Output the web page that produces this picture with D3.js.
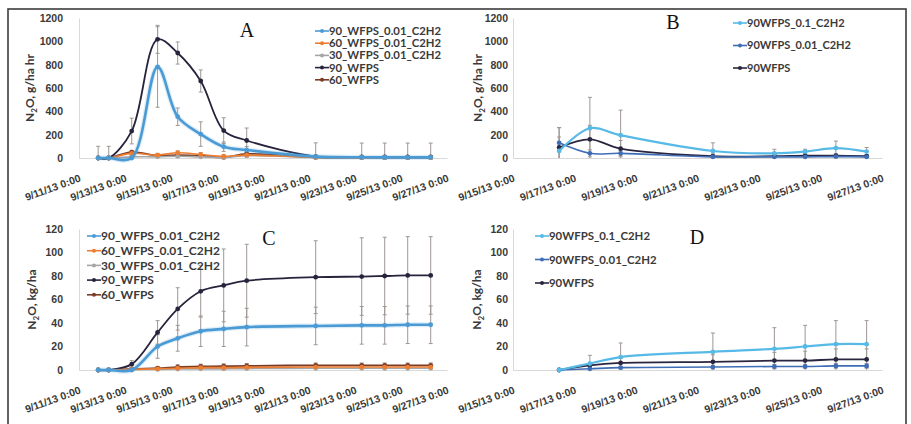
<!DOCTYPE html>
<html>
<head>
<meta charset="utf-8">
<script src="https://cdn.jsdelivr.net/npm/d3@7"></script>
<style>
body { margin: 0; background: #fff; }
svg { display: block; font-family: Lato, "DejaVu Sans", sans-serif; }
</style>
</head>
<body>
<svg id="chart" width="911" height="424"></svg>
<script>
// sampling times
var datesAC = ["2013-09-11T20:00", "2013-09-12T07:00", "2013-09-13T07:00", "2013-09-14T10:00",
	"2013-09-15T07:00", "2013-09-16T07:00", "2013-09-17T07:00", "2013-09-18T07:00",
	"2013-09-21T07:00", "2013-09-23T07:00", "2013-09-24T07:00", "2013-09-25T07:00", "2013-09-26T07:00"];
var datesBD = ["2013-09-16T12:00", "2013-09-17T12:00", "2013-09-18T12:00", "2013-09-21T12:00",
	"2013-09-23T12:00", "2013-09-24T12:00", "2013-09-25T12:00", "2013-09-26T12:00"];

// axis ticks
var xTicksAC = ["2013-09-11", "2013-09-13", "2013-09-15", "2013-09-17", "2013-09-19", "2013-09-21", "2013-09-23", "2013-09-25", "2013-09-27"];
var xTicksBD = ["2013-09-15", "2013-09-17", "2013-09-19", "2013-09-21", "2013-09-23", "2013-09-25", "2013-09-27"];
var fluxTicks = [0, 200, 400, 600, 800, 1000, 1200];
var cumTicks = [0, 20, 40, 60, 80, 100, 120];

// legend labels
var namesAC = ["90_WFPS_0.01_C2H2", "60_WFPS_0.01_C2H2", "30_WFPS_0.01_C2H2", "90_WFPS", "60_WFPS"];
var namesBD = ["90WFPS_0.1_C2H2", "90WFPS_0.01_C2H2", "90WFPS"];

// A: flux, g/ha hr
var a90C2H2 = [0, 0, 0, 780, 354, 205, 97, 68, 12, 6, 5, 5, 5];
var a90C2H2Err = [0, 0, 0, 345, 75, 105, 40, 30, 10, 8, 8, 8, 8];
var a60C2H2 = [0, 0, 40, 25, 45, 30, 15, 25, 5, 3, 3, 3, 3];
var a60C2H2Err = [0, 0, 15, 15, 15, 15, 10, 15, 5, 5, 5, 5, 5];
var a30C2H2 = [0, 0, 10, 10, 15, 10, 5, 20, 5, 3, 3, 3, 3];
var a30C2H2Err = [0, 0, 10, 10, 10, 10, 5, 10, 5, 5, 5, 5, 5];
var a90 = [0, 0, 231, 1017, 900, 660, 235, 150, 12, 10, 10, 10, 10];
var a90Err = [100, 100, 110, 120, 95, 95, 110, 107, 118, 118, 118, 118, 118];
var a60 = [0, 0, 50, 20, 25, 20, 5, 35, 5, 3, 3, 3, 3];
var a60Err = [0, 0, 15, 10, 10, 10, 5, 15, 5, 5, 5, 5, 5];

// B: flux, g/ha hr
var b90C2H2High = [60, 255, 195, 60, 40, 55, 85, 55];
var b90C2H2HighErr = [200, 265, 215, 70, 35, 20, 60, 35];
var b90C2H2Low = [130, 40, 40, 10, 10, 10, 12, 10];
var b90C2H2LowErr = [130, 30, 20, 10, 10, 10, 10, 10];
var b90 = [90, 160, 80, 15, 15, 20, 20, 15];
var b90Err = [90, 120, 70, 20, 15, 15, 15, 15];

// C: cumulative, kg/ha
var c90C2H2 = [0, 0, 0, 20, 27, 33, 35, 36.5, 37.5, 38, 38, 38.5, 38.5];
var c90C2H2Err = [0, 0, 0, 10, 11, 13, 15, 16, 16, 16, 16, 16, 16];
var c60C2H2 = [0, 0, 0.5, 1, 1.5, 2, 2, 2.2, 2.5, 2.5, 2.5, 2.5, 2.5];
var c60C2H2Err = [0, 0, 0.5, 1, 1, 1, 1, 1, 1, 1, 1, 1, 1];
var c30C2H2 = [0, 0, 0.3, 0.5, 0.8, 1, 1, 1.2, 1.5, 1.5, 1.5, 1.5, 1.5];
var c30C2H2Err = [0, 0, 0.5, 0.5, 0.5, 0.5, 0.5, 0.5, 0.5, 0.5, 0.5, 0.5, 0.5];
var c90 = [0, 0, 5, 32, 52, 67, 72, 76, 79, 79.5, 80, 80.5, 80.5];
var c90Err = [0, 0, 3, 10, 18, 22, 31, 31, 31, 33, 33, 33, 33];
var c60 = [0, 0, 1, 1.5, 2.5, 3, 3.2, 3.5, 4, 4, 4, 4, 4];
var c60Err = [0, 0, 1, 1.5, 2, 2, 2, 2, 2, 2, 2, 2, 2];

// D: cumulative, kg/ha
var d90C2H2High = [0, 5.5, 11, 15.5, 18, 20, 22, 22];
var d90C2H2HighErr = [0, 7, 12, 16, 18, 18, 20, 20];
var d90C2H2Low = [0, 1, 2, 2.5, 3, 3, 3.5, 3.5];
var d90C2H2LowErr = [0, 1, 1, 1.5, 1.5, 1.5, 2, 2];
var d90 = [0, 4, 6, 7, 8, 8, 9, 9];
var d90Err = [0, 2, 4, 6, 7, 8, 9, 9];

var parseTime = d3.timeParse("%Y-%m-%dT%H:%M");
var parseDay = d3.timeParse("%Y-%m-%d");
var fmt = d3.timeFormat("%-m/%-d/%y %-H:%M");

var colorsAC = ["#4a9bd5", "#ed7d31", "#a5a5a5", "#27233d", "#7b3b25"];
var widthsAC = [2.6, 1.6, 1.6, 1.8, 1.8];
var colorsBD = ["#56b9e6", "#3f6db5", "#2b2640"];
var widthsBD = [2.2, 1.6, 1.8];

function makeSeries(names, dates, values, errs, colors, widths) {
	return names.map(function(n, i) {
		return {
			name: n, color: colors[i], width: widths[i],
			points: dates.map(function(d, j) {
				return {t: parseTime(d), v: values[i][j], e: errs[i][j]};
			})
		};
	});
}

var panels = [
	{
		letter: "A", letterX: 247, letterY: 37, unit: "g/ha hr",
		xRange: [79, 447], yRange: [158, 18], yMax: 1200, yTicks: fluxTicks, yPad: 16,
		titleX: 34, xTicks: xTicksAC,
		legend: {x: 315, y: 31, dy: 12.2, size: 11.3},
		series: makeSeries(namesAC, datesAC,
			[a90C2H2, a60C2H2, a30C2H2, a90, a60],
			[a90C2H2Err, a60C2H2Err, a30C2H2Err, a90Err, a60Err], colorsAC, widthsAC)
	},
	{
		letter: "B", letterX: 673, letterY: 29, unit: "g/ha hr",
		xRange: [513, 882], yRange: [158, 18], yMax: 1200, yTicks: fluxTicks, yPad: 5,
		titleX: 482, xTicks: xTicksBD,
		legend: {x: 733, y: 23, dy: 22.5, size: 11},
		series: makeSeries(namesBD, datesBD,
			[b90C2H2High, b90C2H2Low, b90],
			[b90C2H2HighErr, b90C2H2LowErr, b90Err], colorsBD, widthsBD)
	},
	{
		letter: "C", letterX: 269, letterY: 245, unit: "kg/ha",
		xRange: [79, 447], yRange: [370, 229], yMax: 120, yTicks: cumTicks, yPad: 16,
		titleX: 36, xTicks: xTicksAC,
		legend: {x: 87, y: 236, dy: 14.7, size: 12},
		series: makeSeries(namesAC, datesAC,
			[c90C2H2, c60C2H2, c30C2H2, c90, c60],
			[c90C2H2Err, c60C2H2Err, c30C2H2Err, c90Err, c60Err], colorsAC, widthsAC)
	},
	{
		letter: "D", letterX: 697, letterY: 244, unit: "kg/ha",
		xRange: [513, 882], yRange: [370, 229], yMax: 120, yTicks: cumTicks, yPad: 5,
		titleX: 481, xTicks: xTicksBD,
		legend: {x: 535, y: 236, dy: 23.5, size: 11.4},
		series: makeSeries(namesBD, datesBD,
			[d90C2H2High, d90C2H2Low, d90],
			[d90C2H2HighErr, d90C2H2LowErr, d90Err], colorsBD, widthsBD)
	}
];

var svg = d3.select("#chart");
svg.append("rect").attr("width", 911).attr("height", 424).attr("fill", "#fff");

// outer frame
svg.append("rect")
	.attr("x", 8).attr("y", 9).attr("width", 898).attr("height", 440)
	.attr("fill", "none").attr("stroke", "#3c3c3c").attr("stroke-width", 1.6);

panels.forEach(drawPanel);

function drawPanel(p) {
	var xTicks = p.xTicks.map(parseDay);
	var x = d3.scaleTime()
		.domain([xTicks[0], xTicks[xTicks.length - 1]])
		.range(p.xRange);
	var y = d3.scaleLinear().domain([0, p.yMax]).range(p.yRange);
	var g = svg.append("g");

	// y axis
	var yAxis = g.append("g")
		.attr("transform", "translate(" + p.xRange[0] + ",0)")
		.call(d3.axisLeft(y).tickValues(p.yTicks).tickFormat(d3.format("d")).tickSize(0).tickPadding(p.yPad));
	yAxis.select(".domain").attr("stroke", "#d9d9d9");
	yAxis.selectAll("text")
		.attr("fill", "#3a3a3a")
		.style("font-size", "10.5px")
		.style("font-weight", "bold");

	// x axis
	var xAxis = g.append("g")
		.attr("transform", "translate(0," + p.yRange[0] + ")")
		.call(d3.axisBottom(x).tickValues(xTicks).tickFormat(fmt).tickSize(0));
	xAxis.select(".domain").attr("stroke", "#d9d9d9");
	xAxis.selectAll("text")
		.attr("y", 0).attr("dy", 0)
		.attr("text-anchor", "end")
		.attr("transform", "translate(2,23) rotate(-20)")
		.attr("fill", "#3a3a3a")
		.style("font-size", "10.5px")
		.style("font-weight", "bold");

	// y title: N2O with subscript
	var title = g.append("text")
		.attr("transform", "translate(" + p.titleX + "," + ((p.yRange[0] + p.yRange[1]) / 2) + ") rotate(-90)")
		.attr("text-anchor", "middle")
		.attr("fill", "#3a3a3a")
		.style("font-size", "12px")
		.style("font-weight", "bold");
	title.append("tspan").text("N");
	title.append("tspan").attr("dy", 3).style("font-size", "8px").text("2");
	title.append("tspan").attr("dy", -3).text("O, " + p.unit);

	var line = d3.line()
		.x(function(d) { return x(d.t); })
		.y(function(d) { return y(d.v); })
		.curve(d3.curveCatmullRom.alpha(0.5));

	// error bars, drawn under the lines
	var errs = g.append("g").attr("stroke", "#9d9794").attr("stroke-width", 1);
	p.series.forEach(function(s) {
		s.points.forEach(function(d) {
			if (!d.e) return;
			var cx = x(d.t), top = y(d.v + d.e), bot = y(Math.max(0, d.v - d.e));
			errs.append("line").attr("x1", cx).attr("x2", cx).attr("y1", top).attr("y2", bot);
			errs.append("line").attr("x1", cx - 2).attr("x2", cx + 2).attr("y1", top).attr("y2", top);
			if (d.v - d.e > 0) {
				errs.append("line").attr("x1", cx - 2).attr("x2", cx + 2).attr("y1", bot).attr("y2", bot);
			}
		});
	});

	// lines and markers, last series at the bottom like the original
	p.series.slice().reverse().forEach(function(s) {
		if (s.width > 2.5) {
			g.append("path").datum(s.points)
				.attr("fill", "none").attr("stroke", s.color).attr("stroke-opacity", 0.18)
				.attr("stroke-width", s.width + 2.5).attr("d", line);
		}
		g.append("path").datum(s.points)
			.attr("fill", "none").attr("stroke", s.color)
			.attr("stroke-width", s.width).attr("d", line);
		g.selectAll(null).data(s.points).enter().append("circle")
			.attr("cx", function(d) { return x(d.t); })
			.attr("cy", function(d) { return y(d.v); })
			.attr("r", 2.4)
			.attr("fill", s.color);
	});

	// panel letter
	g.append("text")
		.attr("x", p.letterX).attr("y", p.letterY)
		.attr("text-anchor", "middle")
		.style("font-family", "'Liberation Serif', serif")
		.style("font-size", "20px")
		.attr("fill", "#111")
		.text(p.letter);

	// legend
	var lg = g.append("g").attr("transform", "translate(" + p.legend.x + "," + p.legend.y + ")");
	p.series.forEach(function(s, i) {
		var row = lg.append("g").attr("transform", "translate(0," + (i * p.legend.dy) + ")");
		row.append("line").attr("x1", 0).attr("x2", 14).attr("stroke", s.color).attr("stroke-width", 1.6);
		row.append("circle").attr("cx", 7).attr("r", 2).attr("fill", s.color);
		row.append("text")
			.attr("x", 14).attr("dy", "0.35em")
			.attr("fill", "#3a3a3a")
			.style("font-size", p.legend.size + "px")
			.style("font-weight", "bold")
			.text(s.name);
	});
}
</script>
</body>
</html>
